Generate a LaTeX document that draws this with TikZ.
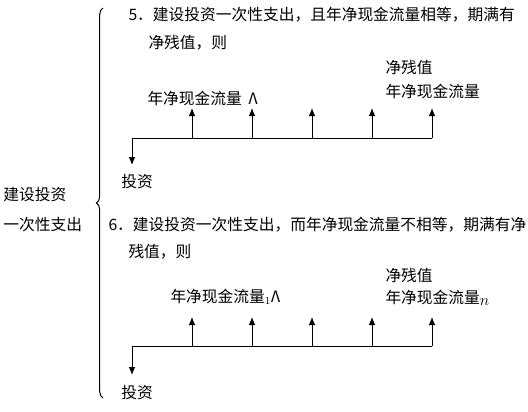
\documentclass[tikz,border=0pt]{standalone}
\usepackage{fontspec}
\newfontfamily\cjk{Noto Sans CJK SC}
\usetikzlibrary{decorations.pathreplacing,arrows.meta}
\begin{document}
\begin{tikzpicture}[x=0.75pt,y=-0.75pt,line width=0.75pt,
	font=\cjk\fontsize{11.8}{14}\selectfont,
	every node/.style={inner sep=0pt},
	freccia/.style={-{Latex[length=6pt,width=5pt]}}]
	\useasboundingbox (0,0) rectangle (528,411);
		\node [anchor = west](Costruzione)at (3,195) {建设投资};
		\node [anchor = west](Spesa)at (3,225) {一次性支出};
		\draw [decorate, decoration={brace, amplitude=5pt, aspect=0.5}] (103,398) -- (103,8);

		% caso 5
		\node [anchor = west](Titolo5)at (128,15) {5．建设投资一次性支出，且年净现金流量相等，期满有};
		\node [anchor = west](Riga5)at (148,43) {净残值，则};
		\node [anchor = west](Flusso5)at (147,98) {年净现金流量\hspace{5pt}Λ};
		\node [anchor = west](Residuo5)at (385,68) {净残值};
		\node [anchor = west](Ultimo5)at (385,91) {年净现金流量};
		\node (Investimento5)at (137,182) {投资};
		\coordinate (Origine5) at (132,138);
		\coordinate (Uscita5) at (132,165);
		\foreach \x [count=\i] in {192,252,312,372,432}{
			\coordinate (Base5\i) at (\x,138);
			\coordinate (Cima5\i) at (\x,108);
			\draw [freccia](Base5\i)--(Cima5\i);
		}
		\draw (Origine5)--(Base55);
		\draw [freccia](Origine5)--(Uscita5);

		% caso 6
		\node [anchor = west](Titolo6)at (108,225) {6．建设投资一次性支出，而年净现金流量不相等，期满有净};
		\node [anchor = west](Riga6)at (128,252) {残值，则};
		\node [anchor = west](Flusso6)at (170,297) {年净现金流量$_1$Λ};
		\node [anchor = west](Residuo6)at (385,275) {净残值};
		\node [anchor = west](Ultimo6)at (385,298) {年净现金流量\raisebox{-1.5pt}{$n$}};
		\node (Investimento6)at (137,393) {投资};
		\coordinate (Origine6) at (132,346);
		\coordinate (Uscita6) at (132,375);
		\foreach \x [count=\i] in {192,252,312,372,432}{
			\coordinate (Base6\i) at (\x,346);
			\coordinate (Cima6\i) at (\x,317);
			\draw [freccia](Base6\i)--(Cima6\i);
		}
		\draw (Origine6)--(Base65);
		\draw [freccia](Origine6)--(Uscita6);
	\end{tikzpicture}
\end{document}
